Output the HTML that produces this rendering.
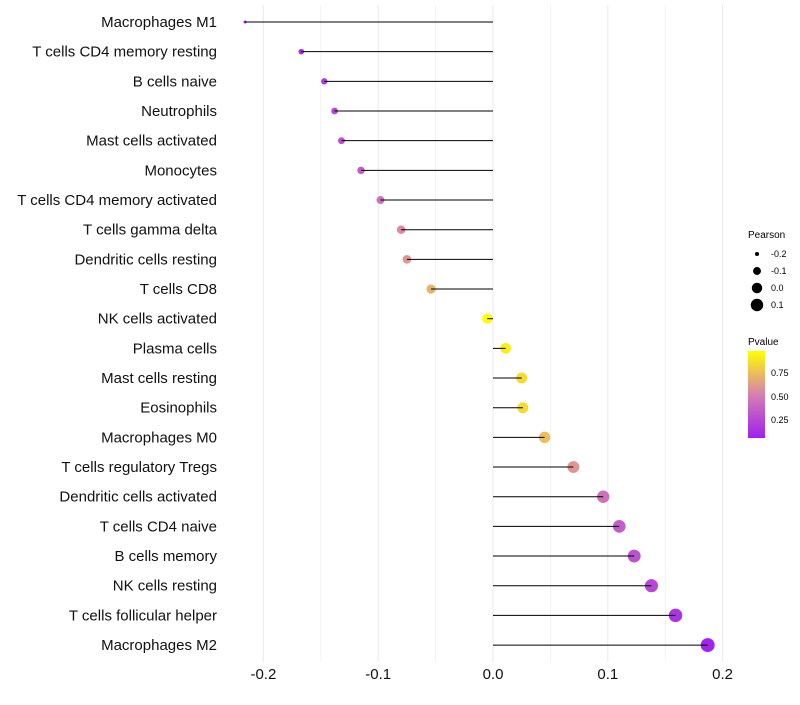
<!DOCTYPE html>
<html><head><meta charset="utf-8"><style>
body{margin:0;background:#fff;font-family:"Liberation Sans",sans-serif}
</style></head><body>
<svg id="chart" width="800" height="700" xmlns="http://www.w3.org/2000/svg">
<defs><linearGradient id="pg" x1="0" y1="1" x2="0" y2="0">
<stop offset="0" stop-color="#A020F0"/><stop offset="0.5" stop-color="#D67FB0"/><stop offset="1" stop-color="#FFFF00"/></linearGradient></defs>
<g id="grid"></g>
<g id="dots"></g>
<g id="marks"></g>
<g id="labels"></g>
<g font-size="9">
<text x="748" y="238" font-size="10">Pearson</text>
<g id="sizeleg"></g>
</g>
<g font-size="9">
<text x="748" y="345" font-size="10">Pvalue</text>
<rect x="748" y="351" width="17" height="87" fill="url(#pg)"/>
<text x="771" y="376">0.75</text>
<text x="771" y="400">0.50</text>
<text x="771" y="423">0.25</text>
</g>
</svg>
<script>
const cells=["Macrophages M1","T cells CD4 memory resting","B cells naive","Neutrophils","Mast cells activated","Monocytes","T cells CD4 memory activated","T cells gamma delta","Dendritic cells resting","T cells CD8","NK cells activated","Plasma cells","Mast cells resting","Eosinophils","Macrophages M0","T cells regulatory  Tregs ","Dendritic cells activated","T cells CD4 naive","B cells memory","NK cells resting","T cells follicular helper","Macrophages M2"];
const pearson=[-0.216,-0.167,-0.147,-0.138,-0.132,-0.115,-0.098,-0.080,-0.075,-0.054,-0.005,0.011,0.025,0.026,0.045,0.070,0.096,0.110,0.123,0.138,0.159,0.187];
const pvalue=[0.05,0.12,0.2,0.25,0.3,0.35,0.45,0.55,0.6,0.7,0.98,0.92,0.85,0.85,0.75,0.6,0.45,0.35,0.3,0.25,0.15,0.08];
const xTicks=[-0.2,-0.1,0.0,0.1,0.2];
const sizeLegend=[-0.2,-0.1,0.0,0.1];
const NS="http://www.w3.org/2000/svg";
const x=v=>493+v*1148;
const y=i=>22+i*29.67;
const r=v=>Math.sqrt(Math.max(1,2.25+116*(v+0.216)));
function lerp(a,b,t){return a.map((c,i)=>Math.round(c+(b[i]-c)*t));}
function col(p){const t=Math.max(0,Math.min(1,(p-0.06)/0.92));const A=[160,32,240],M=[216,128,176],B=[255,255,0];
const c=t<0.5?lerp(A,M,t/0.5):lerp(M,B,(t-0.5)/0.5);return `rgb(${c})`;}
function mk(tag,at,par){const e=document.createElementNS(NS,tag);for(const k in at)e.setAttribute(k,at[k]);par.appendChild(e);return e;}
const G=document.getElementById('grid'),M=document.getElementById('marks'),D=document.getElementById('dots'),L=document.getElementById('labels');
for(let v=-0.2;v<=0.2001;v+=0.05){const e=mk('line',{x1:x(v),x2:x(v),y1:5,y2:662,stroke:'#ebebeb','stroke-width':Math.abs(Math.round(v*20)%2)?0.6:1.1},G);

}
xTicks.forEach(v=>{const t=mk('text',{x:x(v),y:679,'text-anchor':'middle','font-size':15,fill:'#111'},L);t.textContent=v.toFixed(1);

});
cells.forEach((c,i)=>{
const t=mk('text',{x:217,y:y(i)+5,'text-anchor':'end','font-size':15,fill:'#111'},L);t.textContent=c;


const l=mk('line',{x1:x(0),x2:x(pearson[i]),y1:y(i),y2:y(i),stroke:'#000','stroke-width':1},M);


const d=mk('circle',{cx:x(pearson[i]),cy:y(i),r:r(pearson[i]),fill:col(pvalue[i])},D);


});
const S=document.getElementById('sizeleg');
sizeLegend.forEach((v,i)=>{const cy=254+i*17;
const d=mk('circle',{cx:757,cy:cy,r:r(v),fill:'#000'},S);


const t=mk('text',{x:771,y:cy+3},S);t.textContent=v.toFixed(1);

});
</script>
</body></html>
